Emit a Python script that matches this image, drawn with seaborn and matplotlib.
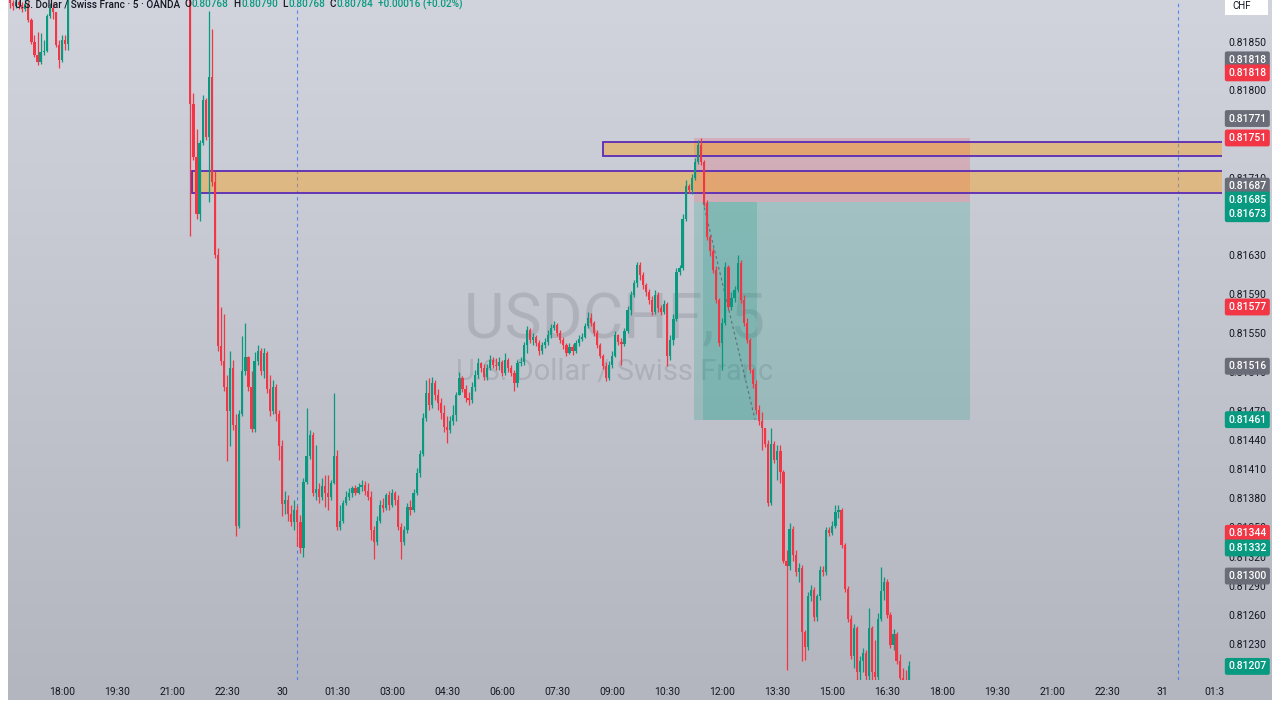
import numpy as np
import matplotlib
matplotlib.use("Agg")
import matplotlib.pyplot as plt
import matplotlib.colors as mcolors
from matplotlib.patches import Rectangle
import seaborn as sns

sns.set_theme(style="white")
plt.rcParams["font.family"] = ["Roboto", "DejaVu Sans"]

# 5-minute candles, index 0 = 18:00 on the 29th; prices in 1e-5 units
first_index = -17
first_open_pts = 81895
close_pts = [
    81890, 81887, 81891, 81888, 81884, 81889, 81872, 81850, 81836, 81829,
    81839, 81841, 81877, 81885, 81881, 81847, 81831, 81852, 81848, 81900,
    81912, 81925, 81931, 81944, 81938, 81952, 81960, 81955, 81968, 81974,
    81966, 81980, 81991, 81984, 81996, 82004, 81995, 81987, 81999, 81990,
    81978, 81970, 81982, 81973, 81961, 81950, 81958, 81947, 81936, 81944,
    81932, 81921, 81928, 81917, 81910, 81919, 81908, 81914, 81905,
    81786, 81731, 81673, 81746, 81790, 81752, 81814, 81706, 81631, 81537,
    81521, 81495, 81470, 81514, 81455, 81352, 81467, 81511, 81525, 81495,
    81451, 81521, 81532, 81511, 81530, 81493, 81470, 81495, 81467, 81434,
    81374, 81378, 81364, 81356, 81368, 81356, 81329, 81397, 81424, 81445,
    81385, 81390, 81381, 81393, 81385, 81381, 81396, 81424, 81350, 81357,
    81375, 81381, 81385, 81391, 81386, 81392, 81394, 81388, 81381, 81347,
    81335, 81357, 81373, 81370, 81383, 81373, 81385, 81378, 81350, 81335,
    81347, 81371, 81368, 81386, 81406, 81426, 81463, 81488, 81476, 81499,
    81486, 81478, 81468, 81453, 81450, 81460, 81466, 81486, 81504, 81493,
    81483, 81481, 81495, 81507, 81519, 81514, 81505, 81514, 81522, 81517,
    81516, 81520, 81509, 81522, 81514, 81509, 81499, 81519, 81520, 81538,
    81553, 81543, 81546, 81540, 81532, 81538, 81541, 81548, 81555, 81558,
    81550, 81543, 81538, 81530, 81536, 81532, 81540, 81544, 81546, 81557,
    81566, 81561, 81550, 81538, 81527, 81516, 81504, 81517, 81527, 81548,
    81541, 81539, 81552, 81574, 81589, 81602, 81620, 81610, 81600, 81592,
    81584, 81572, 81589, 81576, 81572, 81580, 81527, 81543, 81565, 81613,
    81617, 81668, 81702, 81697, 81710, 81726, 81744, 81726, 81684, 81649,
    81635, 81615, 81584, 81540, 81560, 81618, 81577, 81586, 81594, 81622,
    81584, 81560, 81543, 81512, 81498, 81471, 81460, 81452, 81436, 81375,
    81436, 81419, 81429, 81407, 81316, 81310, 81348, 81322, 81304, 81308,
    81242, 81227, 81279, 81286, 81258, 81279, 81306, 81304, 81347, 81344,
    81352, 81366, 81368, 81332, 81287, 81256, 81218, 81247, 81201, 81213,
    81221, 81197, 81247, 81201, 81196, 81256, 81285, 81294, 81260, 81229,
    81240, 81213, 81195, 81193, 81191, 81207,
]
high_pts = [
    81898, 81893, 81897, 81893, 81891, 81895, 81891, 81874, 81857, 81860,
    81859, 81852, 81879, 81890, 81890, 81881, 81852, 81857, 81857, 81905,
    81916, 81929, 81936, 81948, 81949, 81956, 81965, 81964, 81972, 81979,
    81977, 81984, 81995, 81994, 82001, 82009, 82007, 81998, 82003, 82002,
    81993, 81981, 81986, 81985, 81976, 81964, 81962, 81960, 81950, 81948,
    81947, 81935, 81932, 81931, 81920, 81923, 81922, 81918, 81917,
    81908, 81797, 81760, 81749, 81795, 81792, 81882, 81863, 81717, 81638,
    81577, 81570, 81507, 81532, 81522, 81467, 81471, 81547, 81560, 81527,
    81511, 81531, 81538, 81535, 81535, 81532, 81507, 81502, 81498, 81471,
    81440, 81388, 81383, 81373, 81378, 81373, 81363, 81401, 81473, 81450,
    81448, 81435, 81396, 81401, 81404, 81404, 81399, 81488, 81430, 81373,
    81378, 81388, 81391, 81393, 81394, 81396, 81399, 81398, 81396, 81388,
    81352, 81362, 81378, 81380, 81386, 81388, 81390, 81388, 81383, 81355,
    81352, 81375, 81378, 81390, 81411, 81430, 81468, 81502, 81504, 81505,
    81502, 81493, 81483, 81476, 81465, 81465, 81476, 81489, 81510, 81506,
    81497, 81489, 81500, 81512, 81524, 81520, 81518, 81518, 81528, 81525,
    81524, 81525, 81522, 81530, 81524, 81517, 81512, 81522, 81525, 81541,
    81557, 81555, 81550, 81548, 81543, 81541, 81545, 81553, 81559, 81563,
    81560, 81553, 81546, 81540, 81540, 81539, 81543, 81548, 81550, 81561,
    81572, 81571, 81563, 81553, 81540, 81529, 81520, 81521, 81532, 81552,
    81549, 81545, 81555, 81578, 81593, 81605, 81623, 81623, 81613, 81602,
    81596, 81588, 81594, 81592, 81579, 81584, 81582, 81548, 81570, 81617,
    81620, 81673, 81708, 81704, 81714, 81730, 81749, 81751, 81728, 81687,
    81651, 81638, 81619, 81586, 81566, 81623, 81620, 81592, 81599, 81630,
    81625, 81589, 81566, 81545, 81514, 81502, 81476, 81469, 81452, 81440,
    81452, 81439, 81435, 81435, 81409, 81327, 81355, 81352, 81327, 81313,
    81311, 81244, 81284, 81291, 81289, 81282, 81310, 81310, 81351, 81350,
    81357, 81373, 81373, 81370, 81334, 81290, 81260, 81251, 81249, 81218,
    81226, 81224, 81267, 81249, 81234, 81262, 81309, 81299, 81297, 81263,
    81245, 81242, 81220, 81205, 81203, 81213,
]
low_pts = [
    81885, 81883, 81885, 81884, 81881, 81882, 81870, 81848, 81834, 81826,
    81827, 81836, 81839, 81874, 81873, 81845, 81823, 81829, 81842, 81842,
    81897, 81908, 81921, 81927, 81934, 81935, 81948, 81950, 81951, 81963,
    81961, 81962, 81976, 81979, 81980, 81992, 81990, 81982, 81983, 81985,
    81974, 81966, 81967, 81969, 81957, 81946, 81946, 81943, 81932, 81932,
    81928, 81917, 81917, 81913, 81906, 81906, 81904, 81904, 81900,
    81650, 81728, 81668, 81666, 81744, 81749, 81685, 81702, 81627, 81532,
    81517, 81491, 81418, 81434, 81450, 81341, 81349, 81465, 81507, 81491,
    81448, 81448, 81517, 81507, 81504, 81488, 81465, 81467, 81460, 81419,
    81362, 81364, 81357, 81352, 81347, 81331, 81324, 81320, 81395, 81421,
    81382, 81378, 81375, 81378, 81371, 81368, 81378, 81395, 81347, 81347,
    81355, 81373, 81378, 81381, 81383, 81384, 81388, 81383, 81378, 81337,
    81318, 81332, 81355, 81366, 81368, 81368, 81371, 81373, 81347, 81318,
    81332, 81344, 81363, 81366, 81383, 81402, 81424, 81460, 81471, 81473,
    81481, 81471, 81462, 81448, 81437, 81447, 81455, 81460, 81489, 81489,
    81479, 81476, 81478, 81491, 81504, 81510, 81502, 81502, 81512, 81514,
    81512, 81512, 81506, 81507, 81510, 81506, 81491, 81495, 81516, 81517,
    81530, 81540, 81538, 81537, 81528, 81529, 81535, 81538, 81545, 81553,
    81547, 81540, 81534, 81527, 81529, 81528, 81530, 81537, 81542, 81545,
    81555, 81557, 81547, 81535, 81524, 81513, 81501, 81502, 81514, 81525,
    81538, 81517, 81537, 81550, 81569, 81587, 81598, 81605, 81596, 81588,
    81580, 81569, 81570, 81572, 81569, 81570, 81516, 81522, 81538, 81563,
    81610, 81615, 81666, 81694, 81693, 81708, 81724, 81723, 81681, 81646,
    81629, 81612, 81581, 81537, 81512, 81558, 81574, 81574, 81582, 81592,
    81581, 81557, 81540, 81509, 81494, 81467, 81455, 81430, 81433, 81372,
    81373, 81416, 81399, 81396, 81313, 81203, 81306, 81316, 81300, 81294,
    81213, 81214, 81224, 81274, 81254, 81254, 81275, 81300, 81301, 81341,
    81342, 81349, 81360, 81329, 81284, 81253, 81215, 81205, 81187, 81190,
    81201, 81188, 81193, 81190, 81186, 81193, 81254, 81275, 81257, 81226,
    81224, 81209, 81187, 81182, 81182, 81184,
]

time_ticks = [0, 18, 36, 54, 72, 90, 108, 126, 144, 162, 180, 198, 216, 234,
              252, 270, 288, 306, 324, 342, 360, 377]
time_labels = ["18:00", "19:30", "21:00", "22:30", "30", "01:30", "03:00", "04:30",
               "06:00", "07:30", "09:00", "10:30", "12:00", "13:30", "15:00", "16:30",
               "18:00", "19:30", "21:00", "22:30", "31", "01:3"]
price_ticks = [0.81850, 0.81800, 0.81710, 0.81630, 0.81590, 0.81550, 0.81510,
               0.81470, 0.81440, 0.81410, 0.81380, 0.81350, 0.81320, 0.81290,
               0.81260, 0.81230]

GREEN = "#089981"
RED = "#f23645"
GRAY = "#6a6d78"

tag_values = [0.81818, 0.81818, 0.81771, 0.81751, 0.81687, 0.81685, 0.81673,
              0.81577, 0.81516, 0.81461, 0.81344, 0.81332, 0.81300, 0.81207]
tag_colors = [GRAY, RED, GRAY, RED, GRAY, GREEN, GREEN,
              RED, GRAY, GREEN, RED, GREEN, GRAY, GREEN]
tag_nudge_px = [13, 0, 0, 0, 14, 2, 0, 0, 0, 0, 0, -3, 0, 0]

# supply zones (start candle, top, bottom)
zone_start = [177, 42.5]
zone_top = [0.81747, 0.81717]
zone_bottom = [0.81732, 0.81694]

# short position tool
pos_start, pos_end, pos_exit = 206.7, 297, 227.3
pos_stop, pos_entry, pos_target = 0.81751, 0.81685, 0.81461
session_breaks = [77, 365]

x_min, x_max = -17.66, 379.45
y_min, y_max = 0.81193, 0.81893

# ---- data prep
close = np.array(close_pts) / 1e5
opn = np.r_[first_open_pts / 1e5, close[:-1]]
high = np.maximum(np.array(high_pts) / 1e5, np.maximum(opn, close))
low = np.minimum(np.array(low_pts) / 1e5, np.minimum(opn, close))
idx = np.arange(first_index, first_index + len(close))
colors = np.where(close >= opn, GREEN, RED)

fig = plt.figure(figsize=(12.8, 7.2), dpi=100)
fig.patch.set_facecolor("white")

# gradient panel behind chart + axes
ax_bg = fig.add_axes([8 / 1280, 20 / 720, 1264 / 1280, 700 / 720])
top_c = np.array([209, 212, 220]) / 255
bot_c = np.array([179, 182, 190]) / 255
t = np.linspace(0, 1, 256)[:, None, None]
ax_bg.imshow(top_c * (1 - t) + bot_c * t, aspect="auto", extent=[0, 1, 0, 1])
ax_bg.set_axis_off()

ax = fig.add_axes([8 / 1280, 40 / 720, 1214 / 1280, 680 / 720])
ax.set_facecolor("none")
ax.set_xlim(x_min, x_max)
ax.set_ylim(y_min, y_max)
for s in ax.spines.values():
    s.set_visible(False)

# watermark
ax.text(0.5, 0.503, "USDCHF, 5", transform=ax.transAxes, ha="center", va="baseline",
        fontsize=45, color="#5d606b", alpha=0.2, zorder=0)
ax.text(0.5, 0.441, "U.S. Dollar / Swiss Franc", transform=ax.transAxes, ha="center",
        va="baseline", fontsize=21, color="#5d606b", alpha=0.2, zorder=0)

for xb in session_breaks:
    ax.axvline(xb, color="#2962ff", lw=0.8, ls=(0, (3, 3)), alpha=0.7, zorder=1)

# position tool
ax.add_patch(Rectangle((pos_start, pos_entry), pos_end - pos_start, pos_stop - pos_entry,
                       facecolor=mcolors.to_rgba(RED, 0.2), edgecolor="none", zorder=1.5))
ax.add_patch(Rectangle((pos_start, pos_target), pos_end - pos_start, pos_entry - pos_target,
                       facecolor=mcolors.to_rgba(GREEN, 0.2), edgecolor="none", zorder=1.5))
ax.add_patch(Rectangle((pos_start + 3, pos_target), pos_exit - pos_start - 3, pos_entry - pos_target,
                       facecolor=mcolors.to_rgba(GREEN, 0.2), edgecolor="none", zorder=1.6))
ax.plot([pos_start + 3, pos_exit - 0.6], [pos_entry, pos_target], color="#50535e",
        lw=0.8, ls=(0, (2.5, 2.5)), alpha=0.7, zorder=1.7)

# supply zones
for zs, zt, zb in zip(zone_start, zone_top, zone_bottom):
    ax.add_patch(Rectangle((zs, zb), x_max - zs + 1, zt - zb,
                           facecolor=mcolors.to_rgba("#ff9800", 0.38),
                           edgecolor="#5b2bb5", lw=1.3, zorder=2))

# candles
body_low = np.minimum(opn, close)
body_h = np.maximum(np.abs(close - opn), 0.000008)
ax.vlines(idx, low, high, colors=colors, linewidth=0.9, zorder=4)
ax.bar(idx, body_h, bottom=body_low, width=0.72, color=colors, linewidth=0, zorder=4)

# axes ticks
ax.yaxis.tick_right()
ax.set_yticks(price_ticks)
ax.set_yticklabels([f"{v:.5f}" for v in price_ticks])
ax.tick_params(axis="y", length=0, pad=4.5, labelsize=7.5, labelcolor="#131722")
ax.set_xticks(time_ticks)
ax.set_xticklabels(time_labels)
ax.tick_params(axis="x", length=0, pad=5, labelsize=7.5, labelcolor="#131722")
ax.grid(False)

# price tags on right scale
for v, c, n in zip(tag_values, tag_colors, tag_nudge_px):
    ax.annotate(f"{v:.5f}", xy=(1.0, v), xycoords=ax.get_yaxis_transform(),
                xytext=(4.5, n * 0.72), textcoords="offset points", ha="left", va="center",
                fontsize=7.5, color="white", fontweight="medium",
                bbox=dict(boxstyle="round,pad=0.33,rounding_size=0.2", fc=c, ec="none"),
                annotation_clip=False, zorder=10)

# currency box
fig.add_artist(Rectangle((1225 / 1280, 705 / 720), 43 / 1280, 15 / 720,
                         transform=fig.transFigure, facecolor="white", edgecolor="none"))
fig.text(1232 / 1280, 1 - 6 / 720, "CHF", fontsize=7, color="#131722", va="center")

# header line
header = [("U.S. Dollar / Swiss Franc · 5 · OANDA", "#131722"), ("  O", "#131722"),
          ("0.80768", GREEN), ("  H", "#131722"), ("0.80790", GREEN), ("  L", "#131722"),
          ("0.80768", GREEN), ("  C", "#131722"), ("0.80784", GREEN),
          ("  +0.00016 (+0.02%)", GREEN)]
renderer = fig.canvas.get_renderer()
hx = 15 / 1280
for txt, col in header:
    tt = fig.text(hx, 1 - 7 / 720, txt, fontsize=7.2, color=col, va="baseline",
                  fontweight="medium")
    bb = tt.get_window_extent(renderer=renderer)
    hx = bb.x1 / fig.bbox.width

fig.savefig("out.png", dpi=100)
